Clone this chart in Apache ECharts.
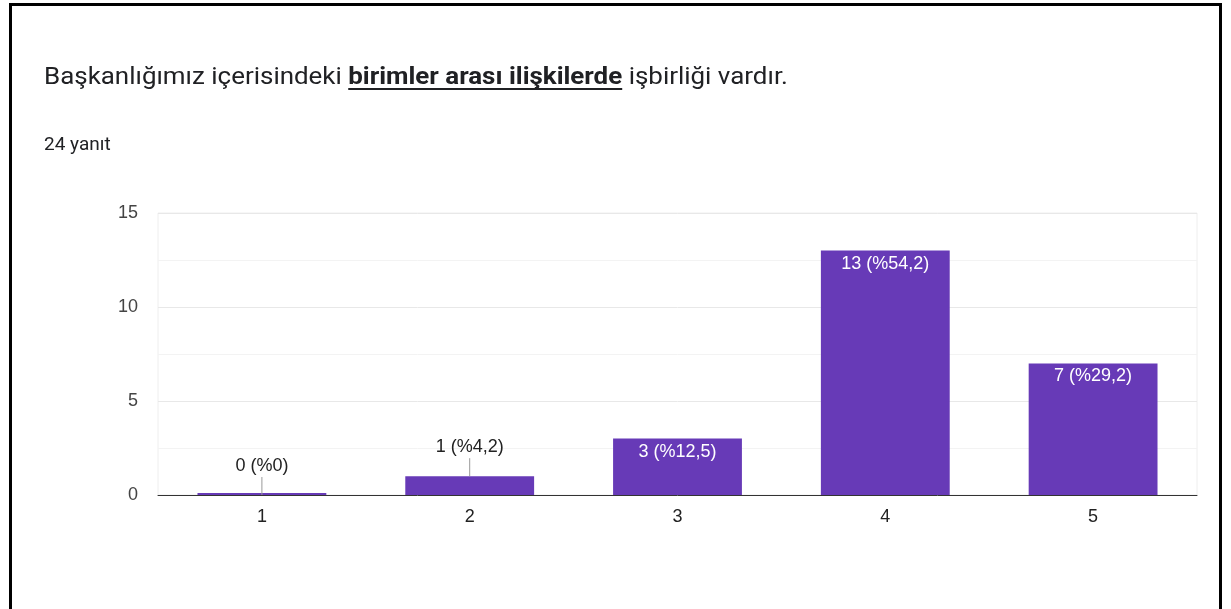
<!DOCTYPE html>
<html>
<head>
<meta charset="utf-8">
<script src="https://cdn.jsdelivr.net/npm/echarts@6/dist/echarts.min.js"></script>
<style>
  html, body { margin: 0; padding: 0; background: #fff; }
  #frame { position: absolute; left: 9px; top: 3px; width: 1207px; height: 620px;
           border: 3px solid #000; border-bottom: none; }
  #chart { position: absolute; left: 0; top: 0; width: 1231px; height: 609px; }
</style>
</head>
<body>
<div id="frame"></div>
<div id="chart"></div>
<script>
  // question + answers
  var titleParts = ['Başkanlığımız içerisindeki ', 'birimler arası ilişkilerde', ' işbirliği vardır.'];
  var responseCount = '24 yanıt';
  var categories = ['1', '2', '3', '4', '5'];
  var counts = [0, 1, 3, 13, 7];
  var percents = ['0', '4,2', '12,5', '54,2', '29,2'];

  var purple = '#673ab7';
  var titleFont = '24px Roboto';
  var titleBold = 'bold 24px Roboto';
  var labelFont = '18px "Liberation Sans", Arial, sans-serif';

  // measure title pieces so the underline sits under the bold part
  var ctx = document.createElement('canvas').getContext('2d');
  function textWidth(t, font) { ctx.font = font; return ctx.measureText(t).width; }
  var w0 = textWidth(titleParts[0], titleFont);
  var w1 = textWidth(titleParts[1], titleBold);

  function labelText(i) { return counts[i] + ' (%' + percents[i] + ')'; }

  var barData = counts.map(function (v, i) {
    return {
      value: v,
      label: {
        show: v >= 2,
        position: 'insideTop',
        distance: 4,
        color: '#fff',
        formatter: labelText(i)
      }
    };
  });

  var chart = echarts.init(document.getElementById('chart'));
  chart.setOption({
    animation: false,
    textStyle: { fontFamily: '"Liberation Sans", Arial, sans-serif' },
    graphic: [
      {
        type: 'group', x: 44, y: 78, scaleX: 1.08,
        children: [
          { type: 'text', x: 0, y: 0, style: { text: titleParts[0], font: titleFont, fill: '#202124', verticalAlign: 'middle' } },
          { type: 'text', x: w0, y: 0, style: { text: titleParts[1], font: titleBold, fill: '#202124', verticalAlign: 'middle' } },
          { type: 'rect', shape: { x: w0, y: 10, width: w1, height: 2 }, style: { fill: '#202124' } },
          { type: 'text', x: w0 + w1, y: 0, style: { text: titleParts[2], font: titleFont, fill: '#202124', verticalAlign: 'middle' } }
        ]
      },
      { type: 'text', x: 44, y: 145, style: { text: responseCount, font: '19px Roboto', fill: '#202124', verticalAlign: 'middle' } }
    ],
    grid: {
      left: 158, right: 34, top: 213, bottom: 114,
      show: true, borderColor: '#eeeeee', borderWidth: 1
    },
    xAxis: {
      type: 'category',
      data: categories,
      axisLine: { lineStyle: { color: '#333', width: 1 } },
      axisTick: { show: false },
      axisLabel: { color: '#222', fontSize: 18, margin: 13 }
    },
    yAxis: {
      type: 'value',
      min: 0, max: 15, interval: 5,
      axisLabel: { color: '#444', fontSize: 18, margin: 20 },
      splitLine: { lineStyle: { color: '#e8e8e8' } },
      minorTick: { show: false, splitNumber: 2 },
      minorSplitLine: { show: true, lineStyle: { color: '#f3f3f3' } }
    },
    series: [
      {
        type: 'bar',
        data: barData,
        barWidth: '62%',
        barMinHeight: 2,
        itemStyle: { color: purple },
        label: { fontSize: 18 }
      },
      {
        // outside labels with leader line for short bars
        type: 'custom',
        data: counts.map(function (v, i) { return [i, v]; }),
        z: 5,
        renderItem: function (params, api) {
          var i = api.value(0), v = api.value(1);
          if (v >= 2) return null;
          var p = api.coord([i, v]);
          return {
            type: 'group',
            children: [
              { type: 'line', shape: { x1: p[0], y1: p[1], x2: p[0], y2: p[1] - 18 }, style: { stroke: '#999', lineWidth: 1 } },
              { type: 'text', x: p[0], y: p[1] - 29, style: { text: labelText(i), fill: '#222', font: labelFont, align: 'center', verticalAlign: 'middle' } }
            ]
          };
        }
      }
    ]
  });
</script>
</body>
</html>
